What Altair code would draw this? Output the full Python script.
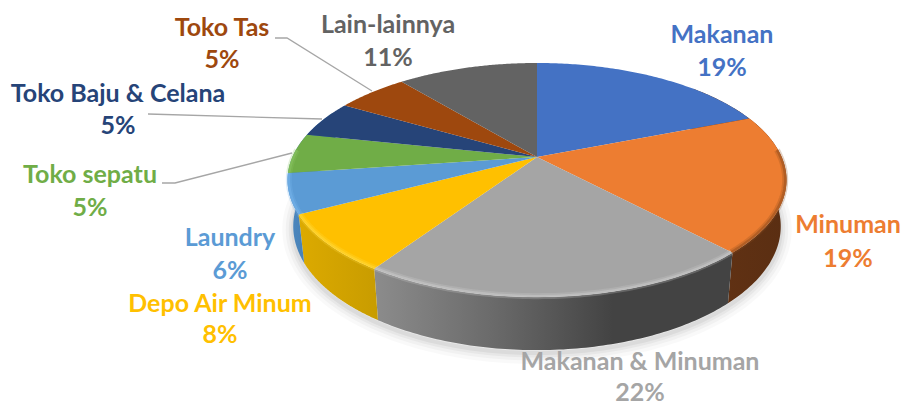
import numpy as np
import pandas as pd
import altair as alt

categories = ["Makanan", "Minuman", "Makanan & Minuman", "Depo Air Minum", "Laundry",
              "Toko sepatu", "Toko Baju & Celana", "Toko Tas", "Lain-lainnya"]
values = [19.0, 19.0, 21.4, 7.9, 5.5, 5.5, 5.1, 5.6, 11.0]
percent_labels = ["19%", "19%", "22%", "8%", "6%", "5%", "5%", "5%", "11%"]
colors = ["#4472C4", "#ED7D31", "#A5A5A5", "#FFC000", "#5B9BD5",
          "#70AD47", "#264478", "#9E480E", "#636363"]
wall_stops = {1: ["#643314", "#5a2e12"],
              2: ["#8c8c8c", "#6a6a6a", "#434343", "#434343"],
              3: ["#dcaa00", "#c89c00"],
              4: ["#4d88bf", "#3f76a8"]}
rim_light = ["#5f8bd8", "#8a4a1c", "#cfcfcf", "#ffdc40", "#79b6ee",
             "#8cc765", "#3a5d9a", "#b8622a", "#7f7f7f"]

W, H = 894, 397
TILT = 0.1966


def project(frac, cx, cy, rx, ry, radius=1.0):
    t = 2 * np.pi * np.asarray(frac)
    u, v = radius * np.sin(t), radius * np.cos(t)
    w = 1 + TILT * v
    return cx + rx * u / w, cy - ry * v / w


def top(frac, radius=1.0):
    return project(frac, 537, 157, 244.6, 112.5, radius)


def bottom(frac):
    return project(frac, 537, 202, 239, 119)


edges = np.concatenate([[0], np.cumsum(values)]) / sum(values)
xs = alt.X("x:Q", scale=alt.Scale(domain=[8, 8 + W]), axis=None)
ys = alt.Y("y:Q", scale=alt.Scale(domain=[8 + H, 8]), axis=None)


def frame(x, y):
    return pd.DataFrame({"x": x, "y": y, "i": np.arange(len(x))})


def shape(df, fill):
    return alt.Chart(df).mark_line(filled=True, fill=fill, strokeWidth=0, clip=False).encode(
        x=xs, y=ys, order="i:Q")


def path(df, color, width, opacity=1.0):
    return alt.Chart(df).mark_line(color=color, strokeWidth=width, opacity=opacity, clip=False).encode(
        x=xs, y=ys, order="i:Q")


layers = []

# soft shadow below the disc
front = np.linspace(0.16, 0.84, 200)
bx, by = bottom(front)
for width, op in [(22, 0.025), (15, 0.03), (9, 0.04), (4, 0.05)]:
    layers.append(path(frame(bx, by + 3), "#000000", width, op))

# side walls: only the slices that face the viewer, their ends hidden under the top face
for k, stops in wall_stops.items():
    lo = 0.13 if k == 1 else edges[k]
    hi = 0.82 if k == 4 else edges[k + 1]
    f = np.linspace(lo, hi, 90)
    tx, ty = top(f)
    ox, oy = bottom(f[::-1])
    grad = alt.Gradient(
        gradient="linear", x1=0, x2=1, y1=0, y2=0,
        stops=[alt.GradientStop(offset=i / (len(stops) - 1), color=c) for i, c in enumerate(stops)])
    layers.append(shape(frame(np.r_[tx, ox], np.r_[ty, oy]), grad))

# top faces
for k in range(len(values)):
    f = np.linspace(edges[k], edges[k + 1], 90)
    tx, ty = top(f)
    layers.append(shape(frame(np.r_[537, tx], np.r_[157, ty]), colors[k]))

# bevel along the front of the rim
for k in range(len(values)):
    lo, hi = max(edges[k], 0.24), min(edges[k + 1], 0.76)
    if lo < hi:
        f = np.linspace(lo, hi, 80)
        tx, ty = top(f, 0.995)
        layers.append(path(frame(tx, ty), rim_light[k], 6, 0.25))
        layers.append(path(frame(tx, ty), rim_light[k], 2.5, 0.45))

# leader lines
leaders = [
    ([275, 287, 372], [38, 38, 91]),
    ([148, 322], [114, 119]),
    ([162, 175, 292], [183, 183, 153]),
]
for lx, ly in leaders:
    layers.append(path(frame(np.array(lx, float), np.array(ly, float)), "#A6A6A6", 1.3))

# labels
anchor_x = [722, 848, 640, 220, 230, 90, 118, 222, 388]
name_y = [43, 233, 370, 312, 246, 183, 102, 36, 33]
pct_y = [76, 267, 401, 343, 279, 216, 134, 68, 66]
label_df = pd.DataFrame({
    "name": categories, "pct": percent_labels, "color": colors,
    "x": anchor_x, "ny": name_y, "py": pct_y})
font = dict(font="Lato", fontWeight="bold", fontSize=25, align="center", baseline="alphabetic")
color_enc = alt.Color("name:N", scale=alt.Scale(domain=categories, range=colors), legend=None)
layers.append(alt.Chart(label_df).mark_text(**font).encode(
    x=xs, y=alt.Y("ny:Q", scale=alt.Scale(domain=[8 + H, 8]), axis=None),
    text="name:N", color=color_enc))
layers.append(alt.Chart(label_df).mark_text(**font).encode(
    x=xs, y=alt.Y("py:Q", scale=alt.Scale(domain=[8 + H, 8]), axis=None),
    text="pct:N", color=color_enc))

chart = alt.layer(*layers).properties(width=W, height=H, padding=0, background="#FFFFFF").configure_view(strokeWidth=0)
chart.save("out.html", embed_options={"renderer": "svg", "actions": False})
